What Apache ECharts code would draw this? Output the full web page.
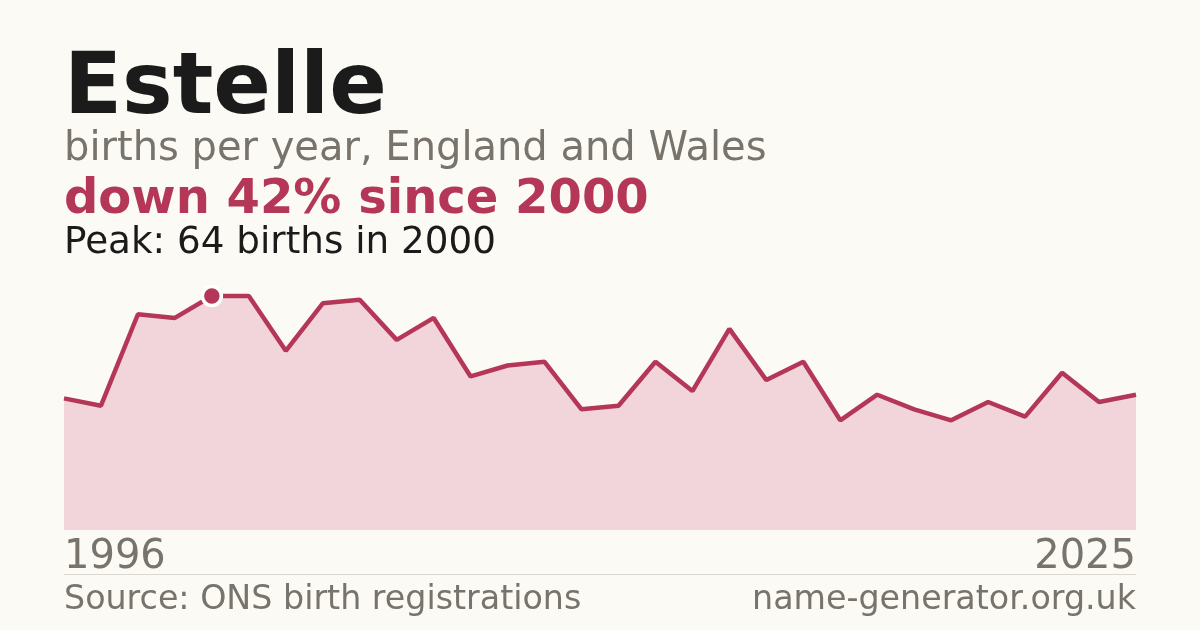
<!DOCTYPE html>
<html>
<head>
<meta charset="utf-8">
<script src="https://cdn.jsdelivr.net/npm/echarts@6/dist/echarts.min.js"></script>
<style>
  html, body { margin: 0; padding: 0; background: #fbfaf5; }
  #main { width: 1200px; height: 630px; }
</style>
</head>
<body>
<div id="main"></div>
<script>
  // Data
  var years = [];
  for (var y = 1996; y <= 2025; y++) { years.push(String(y)); }
  var births = [36, 34, 59, 58, 64, 64, 49, 62, 63, 52,
                58, 42, 45, 46, 33, 34, 46, 38, 55, 41,
                46, 30, 37, 33, 30, 35, 31, 43, 35, 37];

  // Colours
  var red = '#b43758';
  var grey = '#78736b';
  var font = 'DejaVu Sans';

  var peak = Math.max.apply(null, births);
  var peakIndex = births.indexOf(peak);

  var myChart = echarts.init(document.getElementById('main'));

  var option = {
    backgroundColor: '#fbfaf5',
    animation: false,
    grid: {
      left: 64,
      right: 64,
      top: 296,
      bottom: 100
    },
    xAxis: {
      type: 'category',
      data: years,
      boundaryGap: false,
      axisLine: { show: false },
      axisTick: { show: false },
      axisLabel: {
        interval: function (index) {
          return index === 0 || index === years.length - 1;
        },
        showMinLabel: true,
        showMaxLabel: true,
        alignMinLabel: 'left',
        alignMaxLabel: 'right',
        color: grey,
        fontFamily: font,
        fontSize: 40,
        margin: 8
      }
    },
    yAxis: {
      type: 'value',
      min: 0,
      max: peak,
      show: false,
      splitLine: { show: false }
    },
    graphic: [
      {
        type: 'text', left: 64, top: 48,
        style: { text: 'Estelle', font: 'bold 85px "DejaVu Sans"', fill: '#1b1b1b' }
      },
      {
        type: 'text', left: 64, top: 130,
        style: { text: 'births per year, England and Wales', font: '40px "DejaVu Sans"', fill: grey }
      },
      {
        type: 'text', left: 64, top: 177,
        style: { text: 'down 42% since 2000', font: 'bold 48px "DejaVu Sans"', fill: red }
      },
      {
        type: 'text', left: 64, top: 225,
        style: { text: 'Peak: 64 births in 2000', font: '37.3px "DejaVu Sans"', fill: '#1b1b1b' }
      },
      {
        type: 'line',
        shape: { x1: 64, y1: 574.5, x2: 1136, y2: 574.5 },
        style: { stroke: '#dcd8d0', lineWidth: 1 }
      },
      {
        type: 'text', left: 64, top: 584,
        style: { text: 'Source: ONS birth registrations', font: '33.3px "DejaVu Sans"', fill: grey }
      },
      {
        type: 'text', right: 64, top: 584,
        style: { text: 'name-generator.org.uk', font: '33.3px "DejaVu Sans"', fill: grey }
      }
    ],
    series: [
      {
        type: 'line',
        data: births,
        clip: false,
        showSymbol: false,
        lineStyle: { color: red, width: 4.5 },
        areaStyle: { color: '#f2d5da', opacity: 1 },
        z: 2
      },
      {
        type: 'scatter',
        data: [[peakIndex, peak]],
        symbol: 'circle',
        symbolSize: 19,
        clip: false,
        itemStyle: { color: red, borderColor: '#ffffff', borderWidth: 3.5, opacity: 1 },
        z: 3
      }
    ]
  };

  myChart.setOption(option);
</script>
</body>
</html>
